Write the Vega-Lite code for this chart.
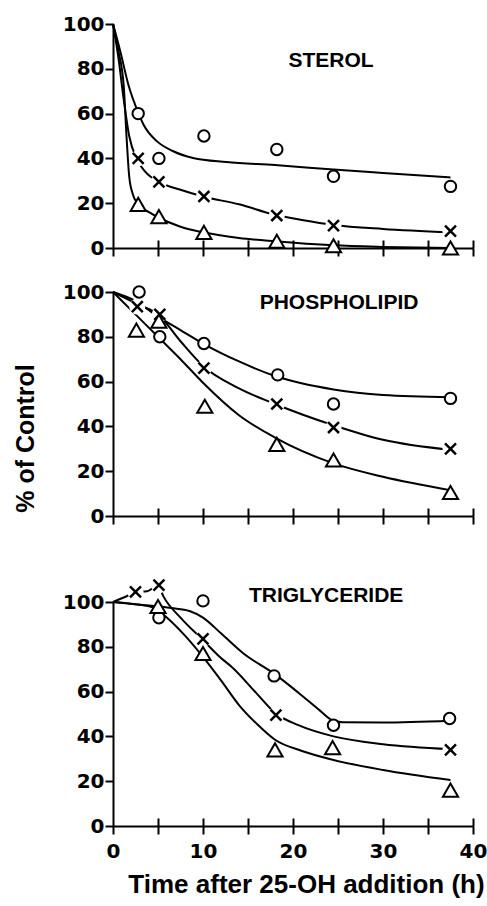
{
  "$schema": "https://vega.github.io/schema/vega-lite/v6.json",
  "padding": {"left": 13, "top": 14, "right": 0, "bottom": 4},
  "background": "white",
  "config": {
    "view": {"stroke": null},
    "font": "Liberation Sans",
    "axis": {"domainColor": "black", "tickColor": "black", "labelColor": "black", "titleColor": "black", "grid": false}
  },
  "datasets": {
    "curves": [
      {"p":"S","s":"o","h":0,"v":100},{"p":"S","s":"o","h":0.8,"v":88},{"p":"S","s":"o","h":1.7,"v":73},{"p":"S","s":"o","h":2.85,"v":60},{"p":"S","s":"o","h":3.4,"v":55},{"p":"S","s":"o","h":4.9,"v":47.6},{"p":"S","s":"o","h":6.7,"v":43.2},{"p":"S","s":"o","h":8.9,"v":40.2},{"p":"S","s":"o","h":12.6,"v":38.4},{"p":"S","s":"o","h":18,"v":37},{"p":"S","s":"o","h":24.5,"v":35},{"p":"S","s":"o","h":30,"v":33.5},{"p":"S","s":"o","h":37.5,"v":31.5},
      {"p":"S","s":"x","h":0,"v":100},{"p":"S","s":"x","h":0.6,"v":85},{"p":"S","s":"x","h":1.2,"v":66},{"p":"S","s":"x","h":1.8,"v":50},{"p":"S","s":"x","h":2.6,"v":40},{"p":"S","s":"x","h":3.6,"v":34},{"p":"S","s":"x","h":5.1,"v":29.5},{"p":"S","s":"x","h":7.5,"v":26},{"p":"S","s":"x","h":10,"v":23},{"p":"S","s":"x","h":14,"v":19.5},{"p":"S","s":"x","h":18,"v":14.8},{"p":"S","s":"x","h":21,"v":12.5},{"p":"S","s":"x","h":24.5,"v":10.3},{"p":"S","s":"x","h":30,"v":8.5},{"p":"S","s":"x","h":37.5,"v":7},
      {"p":"S","s":"t","h":0,"v":100},{"p":"S","s":"t","h":0.6,"v":88},{"p":"S","s":"t","h":1.2,"v":72},{"p":"S","s":"t","h":1.5,"v":50},{"p":"S","s":"t","h":1.8,"v":32},{"p":"S","s":"t","h":2.2,"v":24},{"p":"S","s":"t","h":2.8,"v":19.5},{"p":"S","s":"t","h":4,"v":16},{"p":"S","s":"t","h":5.1,"v":13.5},{"p":"S","s":"t","h":7.5,"v":9.5},{"p":"S","s":"t","h":10,"v":7},{"p":"S","s":"t","h":14,"v":4.5},{"p":"S","s":"t","h":18,"v":3},{"p":"S","s":"t","h":24.5,"v":1.2},{"p":"S","s":"t","h":30,"v":0.5},{"p":"S","s":"t","h":37.5,"v":0},
      {"p":"P","s":"o","h":0,"v":100},{"p":"P","s":"o","h":2.5,"v":96},{"p":"P","s":"o","h":5,"v":89},{"p":"P","s":"o","h":7.5,"v":83},{"p":"P","s":"o","h":10,"v":77},{"p":"P","s":"o","h":14,"v":69},{"p":"P","s":"o","h":18,"v":62.5},{"p":"P","s":"o","h":24.5,"v":56.5},{"p":"P","s":"o","h":30,"v":54},{"p":"P","s":"o","h":37.5,"v":53},
      {"p":"P","s":"x","h":0,"v":100},{"p":"P","s":"x","h":3,"v":94},{"p":"P","s":"x","h":5,"v":90},{"p":"P","s":"x","h":7.5,"v":78},{"p":"P","s":"x","h":10,"v":67},{"p":"P","s":"x","h":14,"v":57},{"p":"P","s":"x","h":18,"v":50},{"p":"P","s":"x","h":24.5,"v":40.5},{"p":"P","s":"x","h":30,"v":34},{"p":"P","s":"x","h":37.5,"v":29.5},
      {"p":"P","s":"t","h":0,"v":100},{"p":"P","s":"t","h":2.5,"v":90},{"p":"P","s":"t","h":5,"v":80},{"p":"P","s":"t","h":7.5,"v":70},{"p":"P","s":"t","h":10,"v":59.5},{"p":"P","s":"t","h":14,"v":45},{"p":"P","s":"t","h":18,"v":35},{"p":"P","s":"t","h":24.5,"v":23.5},{"p":"P","s":"t","h":30,"v":17.5},{"p":"P","s":"t","h":37.5,"v":11.5},
      {"p":"T","s":"o","h":0,"v":100},{"p":"T","s":"o","h":3,"v":98.8},{"p":"T","s":"o","h":6.5,"v":97.3},{"p":"T","s":"o","h":8.5,"v":96},{"p":"T","s":"o","h":10,"v":93},{"p":"T","s":"o","h":12,"v":86},{"p":"T","s":"o","h":14.5,"v":77},{"p":"T","s":"o","h":17.9,"v":68},{"p":"T","s":"o","h":20.6,"v":59.5},{"p":"T","s":"o","h":23,"v":51.5},{"p":"T","s":"o","h":24.3,"v":47.3},{"p":"T","s":"o","h":25.5,"v":46.3},{"p":"T","s":"o","h":30,"v":46.2},{"p":"T","s":"o","h":37.5,"v":47},
      {"p":"T","s":"x","h":0,"v":100},{"p":"T","s":"x","h":1.2,"v":102},{"p":"T","s":"x","h":2.6,"v":104.5},{"p":"T","s":"x","h":3.8,"v":104.8},{"p":"T","s":"x","h":5,"v":107.5},{"p":"T","s":"x","h":5.6,"v":102.5},{"p":"T","s":"x","h":7.5,"v":93},{"p":"T","s":"x","h":10,"v":83},{"p":"T","s":"x","h":12,"v":75},{"p":"T","s":"x","h":13.2,"v":71},{"p":"T","s":"x","h":16,"v":59},{"p":"T","s":"x","h":18,"v":50.5},{"p":"T","s":"x","h":20.6,"v":45},{"p":"T","s":"x","h":24.5,"v":40},{"p":"T","s":"x","h":30,"v":36.5},{"p":"T","s":"x","h":37.5,"v":34.3},
      {"p":"T","s":"t","h":0,"v":100},{"p":"T","s":"t","h":2.5,"v":99},{"p":"T","s":"t","h":4.5,"v":97.5},{"p":"T","s":"t","h":6,"v":93},{"p":"T","s":"t","h":8,"v":85},{"p":"T","s":"t","h":10,"v":75.5},{"p":"T","s":"t","h":12,"v":65},{"p":"T","s":"t","h":14,"v":54},{"p":"T","s":"t","h":16,"v":45.5},{"p":"T","s":"t","h":18,"v":38.5},{"p":"T","s":"t","h":21,"v":33.5},{"p":"T","s":"t","h":24.5,"v":29.5},{"p":"T","s":"t","h":30,"v":25},{"p":"T","s":"t","h":37.5,"v":20.5}
    ],
    "pts": [
      {"p":"S","s":"o","h":2.8,"v":60},{"p":"S","s":"o","h":5.1,"v":40},{"p":"S","s":"o","h":10.1,"v":50},{"p":"S","s":"o","h":18.2,"v":44},{"p":"S","s":"o","h":24.5,"v":32},{"p":"S","s":"o","h":37.5,"v":27.5},
      {"p":"S","s":"x","h":2.8,"v":40},{"p":"S","s":"x","h":5.1,"v":29.5},{"p":"S","s":"x","h":10.1,"v":23},{"p":"S","s":"x","h":18.2,"v":14.5},{"p":"S","s":"x","h":24.5,"v":10},{"p":"S","s":"x","h":37.5,"v":7.5},
      {"p":"S","s":"t","h":2.8,"v":19.5},{"p":"S","s":"t","h":5.1,"v":14},{"p":"S","s":"t","h":10.1,"v":7},{"p":"S","s":"t","h":18.2,"v":3},{"p":"S","s":"t","h":24.5,"v":1},{"p":"S","s":"t","h":37.5,"v":0},
      {"p":"P","s":"o","h":2.9,"v":100},{"p":"P","s":"o","h":5.2,"v":80},{"p":"P","s":"o","h":10.1,"v":77},{"p":"P","s":"o","h":18.3,"v":63},{"p":"P","s":"o","h":24.5,"v":50},{"p":"P","s":"o","h":37.5,"v":52.5},
      {"p":"P","s":"x","h":2.7,"v":93.5},{"p":"P","s":"x","h":5.2,"v":90},{"p":"P","s":"x","h":10.1,"v":66},{"p":"P","s":"x","h":18.2,"v":50},{"p":"P","s":"x","h":24.5,"v":39.5},{"p":"P","s":"x","h":37.5,"v":30},
      {"p":"P","s":"t","h":2.6,"v":83},{"p":"P","s":"t","h":5.1,"v":87},{"p":"P","s":"t","h":10.2,"v":49},{"p":"P","s":"t","h":18.2,"v":32},{"p":"P","s":"t","h":24.5,"v":25},{"p":"P","s":"t","h":37.5,"v":10.5},
      {"p":"T","s":"o","h":5.1,"v":93},{"p":"T","s":"o","h":10,"v":100.5},{"p":"T","s":"o","h":17.9,"v":67},{"p":"T","s":"o","h":24.5,"v":45},{"p":"T","s":"o","h":37.4,"v":48},
      {"p":"T","s":"x","h":2.5,"v":104.5},{"p":"T","s":"x","h":5.1,"v":107.5},{"p":"T","s":"x","h":10,"v":83.5},{"p":"T","s":"x","h":18.1,"v":49.5},{"p":"T","s":"x","h":37.5,"v":34},
      {"p":"T","s":"t","h":5,"v":98},{"p":"T","s":"t","h":10,"v":77},{"p":"T","s":"t","h":18,"v":34},{"p":"T","s":"t","h":24.4,"v":35},{"p":"T","s":"t","h":37.5,"v":16}
    ],
    "labels": [
      {"p":"S","text":"STEROL","h":19.5,"v":83.6},
      {"p":"P","text":"PHOSPHOLIPID","h":16.3,"v":95},
      {"p":"T","text":"TRIGLYCERIDE","h":15.1,"v":102.6}
    ]
  },
  "spacing": 48,
  "vconcat": [
    {
      "spacing": 23,
      "vconcat": [
        {
          "width": 360, "height": 224,
          "resolve": {"axis": {"x": "independent"}},
          "layer": [
            {"data": {"name": "curves"}, "transform": [{"filter": "datum.p === 'S'"}],
             "mark": {"type": "line", "interpolate": "monotone", "color": "black", "strokeWidth": 2},
             "encoding": {
               "x": {"field": "h", "type": "quantitative", "scale": {"domain": [0, 40], "nice": false},
                     "axis": {"orient": "bottom", "values": [0,5,10,15,20,25,30,35,40], "tickSize": 8, "tickWidth": 2, "domainWidth": 2, "labels": false, "title": null}},
               "y": {"field": "v", "type": "quantitative", "scale": {"domain": [0, 100], "nice": false},
                     "axis": {"values": [0,20,40,60,80,100], "tickSize": 8, "tickWidth": 2, "domainWidth": 2, "labelFont": "DejaVu Sans", "labelFontSize": 20, "labelFontWeight": "bold", "labelPadding": 1,
                              "title": "% of Control", "titleFont": "Liberation Sans", "titleFontSize": 25, "titleFontWeight": "bold", "titleAngle": -90, "titleX": -88, "titleY": 146, "titleAlign": "center", "titleBaseline": "middle", "titleOpacity": 0}},
               "detail": {"field": "s"}
             }},
            {"data": {"name": "pts"}, "transform": [{"filter": "datum.p === 'S' && datum.s === 'x'"}],
             "mark": {"type": "point", "shape": "circle", "filled": true, "color": "white", "size": 260, "opacity": 1},
             "encoding": {
               "x": {"field": "h", "type": "quantitative", "axis": {"orient": "bottom", "offset": -8, "values": [5,10,15,20,25,30,35,40], "tickSize": 8, "tickWidth": 2, "domain": false, "labels": false, "title": null}},
               "y": {"field": "v", "type": "quantitative"}
             }},
            {"data": {"name": "pts"}, "transform": [{"filter": "datum.p === 'S' && datum.s === 'o'"}],
             "mark": {"type": "point", "shape": "circle", "fill": "white", "stroke": "black", "strokeWidth": 2, "size": 130, "opacity": 1},
             "encoding": {"x": {"field": "h", "type": "quantitative", "axis": null}, "y": {"field": "v", "type": "quantitative"}}},
            {"data": {"name": "pts"}, "transform": [{"filter": "datum.p === 'S' && datum.s === 'x'"}],
             "mark": {"type": "point", "shape": "M-1,-1L1,1M-1,1L1,-1", "fill": null, "stroke": "black", "strokeWidth": 2.5, "size": 120, "opacity": 1},
             "encoding": {"x": {"field": "h", "type": "quantitative", "axis": null}, "y": {"field": "v", "type": "quantitative"}}},
            {"data": {"name": "pts"}, "transform": [{"filter": "datum.p === 'S' && datum.s === 't'"}],
             "mark": {"type": "point", "shape": "triangle-up", "fill": "white", "stroke": "black", "strokeWidth": 2, "size": 230, "opacity": 1},
             "encoding": {"x": {"field": "h", "type": "quantitative", "axis": null}, "y": {"field": "v", "type": "quantitative"}}},
            {"data": {"name": "labels"}, "transform": [{"filter": "datum.p === 'S'"}],
             "mark": {"type": "text", "align": "left", "baseline": "middle", "font": "Liberation Sans", "fontSize": 21, "fontWeight": "bold", "color": "black"},
             "encoding": {"x": {"field": "h", "type": "quantitative", "axis": null}, "y": {"field": "v", "type": "quantitative"}, "text": {"field": "text"}}}
          ]
        },
        {
          "width": 360, "height": 224,
          "resolve": {"axis": {"x": "independent"}},
          "layer": [
            {"data": {"name": "curves"}, "transform": [{"filter": "datum.p === 'P'"}],
             "mark": {"type": "line", "interpolate": "monotone", "color": "black", "strokeWidth": 2},
             "encoding": {
               "x": {"field": "h", "type": "quantitative", "scale": {"domain": [0, 40], "nice": false},
                     "axis": {"orient": "bottom", "values": [0,5,10,15,20,25,30,35,40], "tickSize": 8, "tickWidth": 2, "domainWidth": 2, "labels": false, "title": null}},
               "y": {"field": "v", "type": "quantitative", "scale": {"domain": [0, 100], "nice": false},
                     "axis": {"values": [0,20,40,60,80,100], "tickSize": 8, "tickWidth": 2, "domainWidth": 2, "labelFont": "DejaVu Sans", "labelFontSize": 20, "labelFontWeight": "bold", "labelPadding": 1,
                              "title": "% of Control", "titleFont": "Liberation Sans", "titleFontSize": 25, "titleFontWeight": "bold", "titleAngle": -90, "titleX": -88, "titleY": 146, "titleAlign": "center", "titleBaseline": "middle"}},
               "detail": {"field": "s"}
             }},
            {"data": {"name": "pts"}, "transform": [{"filter": "datum.p === 'P' && datum.s === 'x'"}],
             "mark": {"type": "point", "shape": "circle", "filled": true, "color": "white", "size": 260, "opacity": 1},
             "encoding": {
               "x": {"field": "h", "type": "quantitative", "axis": {"orient": "bottom", "offset": -8, "values": [5,10,15,20,25,30,35,40], "tickSize": 8, "tickWidth": 2, "domain": false, "labels": false, "title": null}},
               "y": {"field": "v", "type": "quantitative"}
             }},
            {"data": {"name": "pts"}, "transform": [{"filter": "datum.p === 'P' && datum.s === 'o'"}],
             "mark": {"type": "point", "shape": "circle", "fill": "white", "stroke": "black", "strokeWidth": 2, "size": 130, "opacity": 1},
             "encoding": {"x": {"field": "h", "type": "quantitative", "axis": null}, "y": {"field": "v", "type": "quantitative"}}},
            {"data": {"name": "pts"}, "transform": [{"filter": "datum.p === 'P' && datum.s === 'x'"}],
             "mark": {"type": "point", "shape": "M-1,-1L1,1M-1,1L1,-1", "fill": null, "stroke": "black", "strokeWidth": 2.5, "size": 120, "opacity": 1},
             "encoding": {"x": {"field": "h", "type": "quantitative", "axis": null}, "y": {"field": "v", "type": "quantitative"}}},
            {"data": {"name": "pts"}, "transform": [{"filter": "datum.p === 'P' && datum.s === 't'"}],
             "mark": {"type": "point", "shape": "triangle-up", "fill": "white", "stroke": "black", "strokeWidth": 2, "size": 230, "opacity": 1},
             "encoding": {"x": {"field": "h", "type": "quantitative", "axis": null}, "y": {"field": "v", "type": "quantitative"}}},
            {"data": {"name": "labels"}, "transform": [{"filter": "datum.p === 'P'"}],
             "mark": {"type": "text", "align": "left", "baseline": "middle", "font": "Liberation Sans", "fontSize": 21, "fontWeight": "bold", "color": "black"},
             "encoding": {"x": {"field": "h", "type": "quantitative", "axis": null}, "y": {"field": "v", "type": "quantitative"}, "text": {"field": "text"}}}
          ]
        }
      ]
    },
    {
      "width": 360, "height": 224,
      "resolve": {"axis": {"x": "independent"}},
      "layer": [
        {"data": {"name": "curves"}, "transform": [{"filter": "datum.p === 'T'"}],
         "mark": {"type": "line", "interpolate": "monotone", "color": "black", "strokeWidth": 2},
         "encoding": {
           "x": {"field": "h", "type": "quantitative", "scale": {"domain": [0, 40], "nice": false},
                 "axis": {"orient": "bottom", "values": [0,5,10,15,20,25,30,35,40], "tickSize": 8, "tickWidth": 2, "domainWidth": 2,
                          "labelExpr": "datum.value % 10 === 0 ? datum.label : ''", "labelFont": "DejaVu Sans", "labelFontSize": 20, "labelFontWeight": "bold", "labelPadding": 7, "labelFlush": false, "labelOverlap": false,
                          "title": "Time after 25-OH addition (h)", "titleFont": "Liberation Sans", "titleFontSize": 26, "titleFontWeight": "bold", "titleX": 193, "titleY": 66, "titleAlign": "center", "titleBaseline": "alphabetic"}},
           "y": {"field": "v", "type": "quantitative", "scale": {"domain": [0, 100], "nice": false},
                 "axis": {"values": [0,20,40,60,80,100], "tickSize": 8, "tickWidth": 2, "domainWidth": 2, "labelFont": "DejaVu Sans", "labelFontSize": 20, "labelFontWeight": "bold", "labelPadding": 1,
                          "title": "% of Control", "titleFont": "Liberation Sans", "titleFontSize": 25, "titleFontWeight": "bold", "titleAngle": -90, "titleX": -88, "titleY": 146, "titleAlign": "center", "titleBaseline": "middle", "titleOpacity": 0}},
           "detail": {"field": "s"}
         }},
        {"data": {"name": "pts"}, "transform": [{"filter": "datum.p === 'T' && datum.s === 'x'"}],
         "mark": {"type": "point", "shape": "circle", "filled": true, "color": "white", "size": 260, "opacity": 1},
         "encoding": {
           "x": {"field": "h", "type": "quantitative", "axis": {"orient": "bottom", "offset": -8, "values": [5,10,15,20,25,30,35,40], "tickSize": 8, "tickWidth": 2, "domain": false, "labels": false, "title": null}},
           "y": {"field": "v", "type": "quantitative"}
         }},
        {"data": {"name": "pts"}, "transform": [{"filter": "datum.p === 'T' && datum.s === 'o'"}],
         "mark": {"type": "point", "shape": "circle", "fill": "white", "stroke": "black", "strokeWidth": 2, "size": 130, "opacity": 1},
         "encoding": {"x": {"field": "h", "type": "quantitative", "axis": null}, "y": {"field": "v", "type": "quantitative"}}},
        {"data": {"name": "pts"}, "transform": [{"filter": "datum.p === 'T' && datum.s === 'x'"}],
         "mark": {"type": "point", "shape": "M-1,-1L1,1M-1,1L1,-1", "fill": null, "stroke": "black", "strokeWidth": 2.5, "size": 120, "opacity": 1},
         "encoding": {"x": {"field": "h", "type": "quantitative", "axis": null}, "y": {"field": "v", "type": "quantitative"}}},
        {"data": {"name": "pts"}, "transform": [{"filter": "datum.p === 'T' && datum.s === 't'"}],
         "mark": {"type": "point", "shape": "triangle-up", "fill": "white", "stroke": "black", "strokeWidth": 2, "size": 230, "opacity": 1},
         "encoding": {"x": {"field": "h", "type": "quantitative", "axis": null}, "y": {"field": "v", "type": "quantitative"}}},
        {"data": {"name": "labels"}, "transform": [{"filter": "datum.p === 'T'"}],
         "mark": {"type": "text", "align": "left", "baseline": "middle", "font": "Liberation Sans", "fontSize": 21, "fontWeight": "bold", "color": "black"},
         "encoding": {"x": {"field": "h", "type": "quantitative", "axis": null}, "y": {"field": "v", "type": "quantitative"}, "text": {"field": "text"}}}
      ]
    }
  ]
}
